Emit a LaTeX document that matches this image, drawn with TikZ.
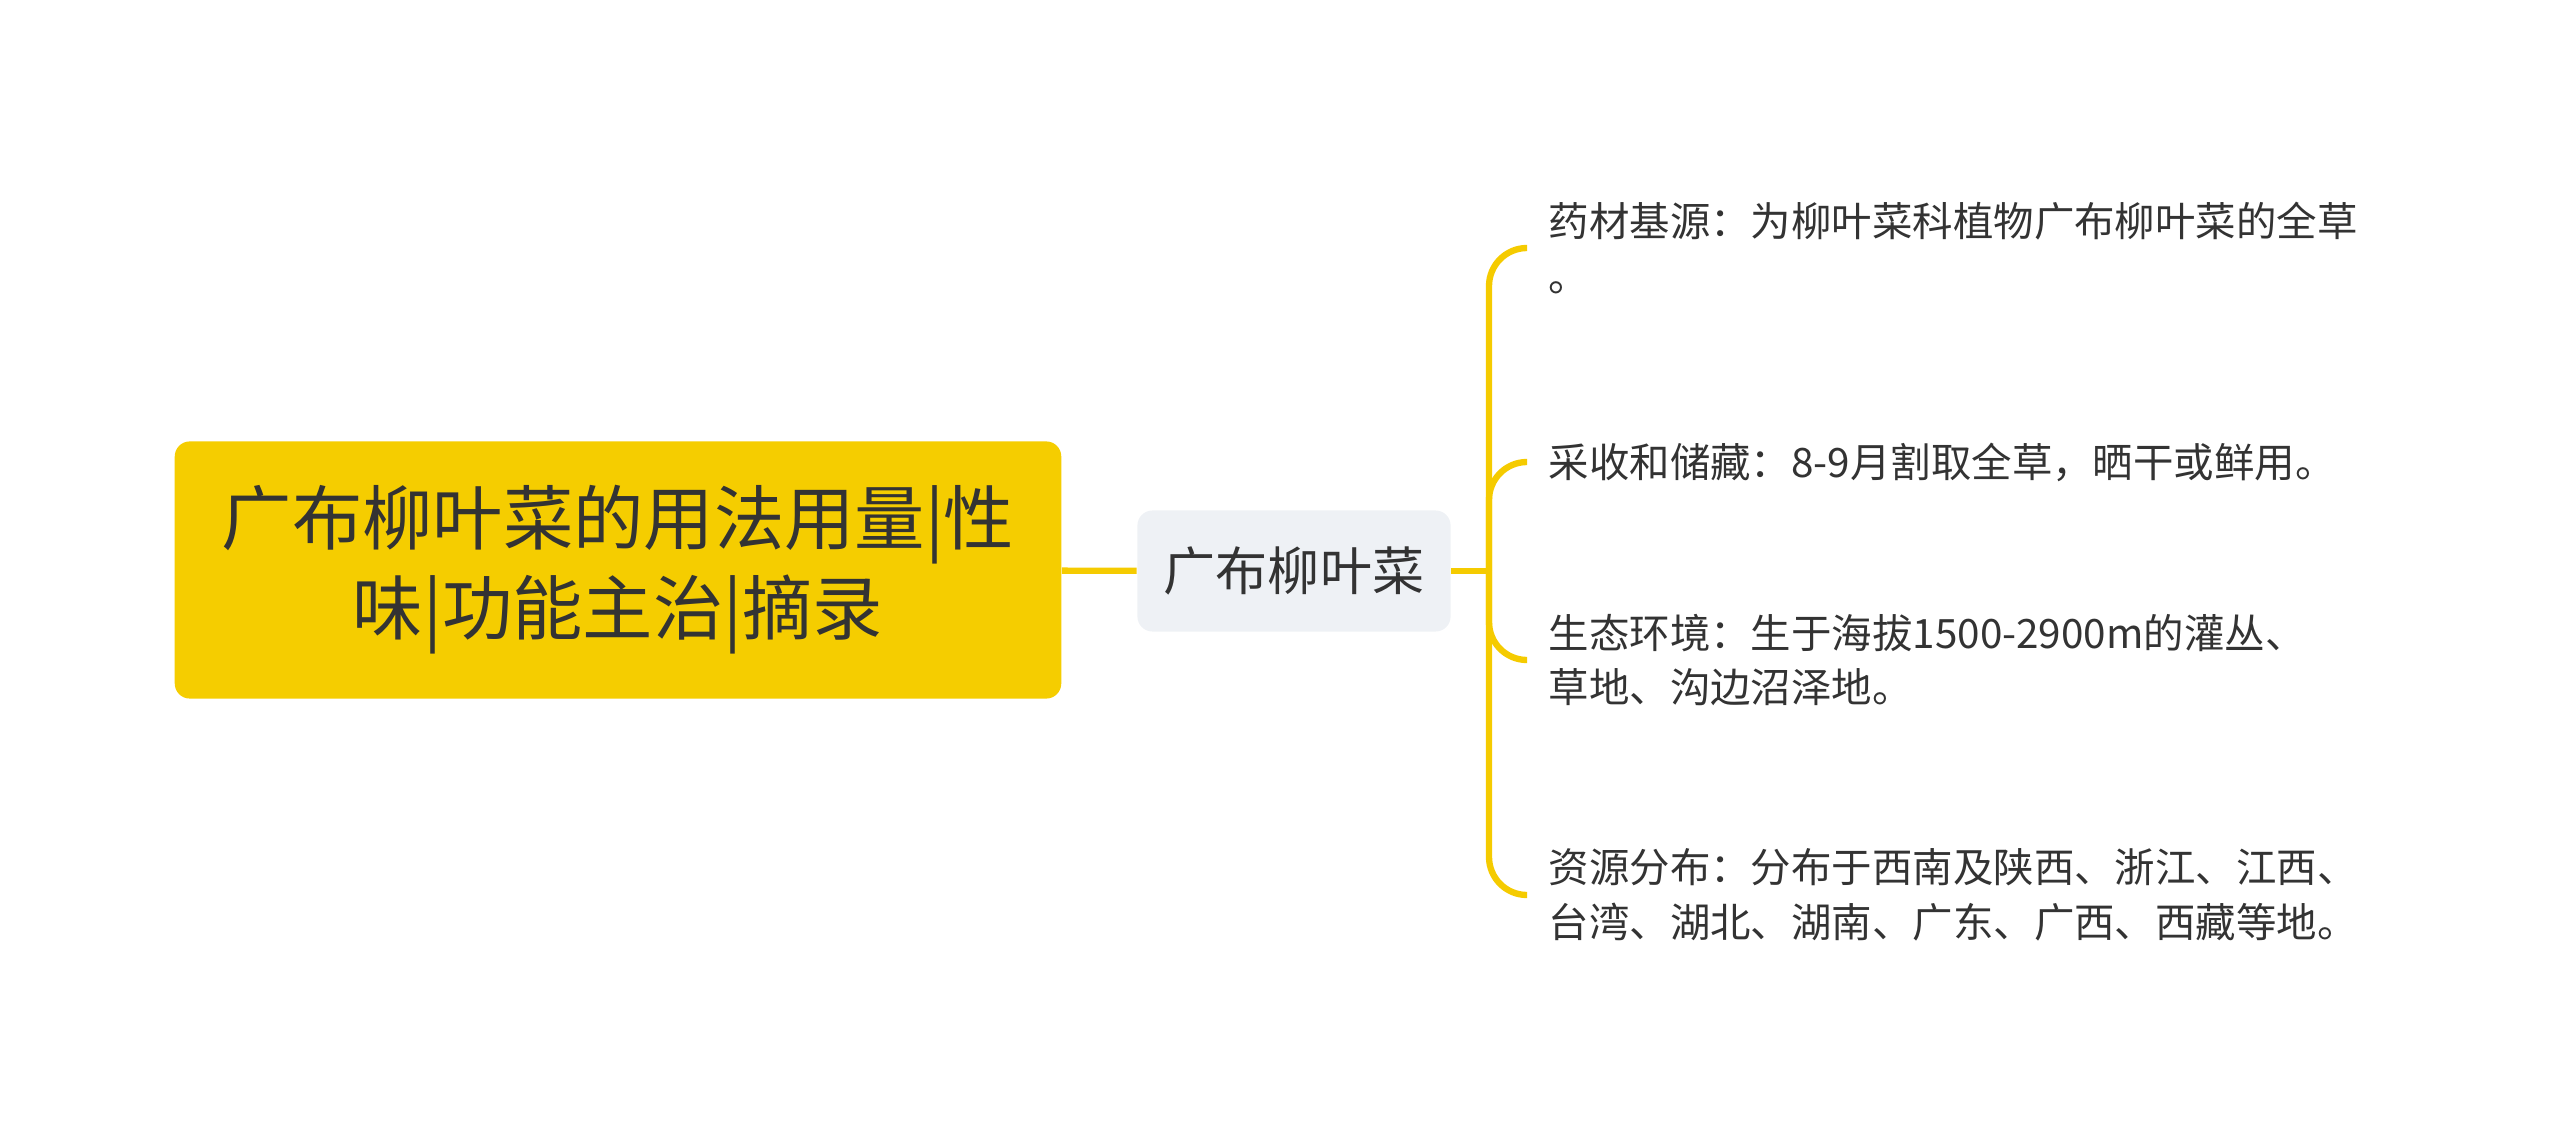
\documentclass[tikz,border=0pt]{standalone}
\usepackage{fontspec}
\setmainfont{Noto Sans CJK SC}
\definecolor{branch}{HTML}{F5CB00}
\definecolor{rootfill}{HTML}{F5CD00}
\definecolor{midfill}{HTML}{EEF1F5}
\definecolor{ink}{HTML}{333333}
\tikzset{
  rootbox/.style={fill=rootfill, rounded corners=0.15cm, minimum width=8.86cm,
    minimum height=2.57cm, align=center, text=ink, font=\fontsize{20}{25.6}\selectfont},
  midbox/.style={fill=midfill, rounded corners=0.15cm, minimum width=3.13cm,
    minimum height=1.21cm, text=ink, font=\fontsize{14.8}{18}\selectfont},
  leaftext/.style={anchor=west, align=left, inner xsep=0.21cm, text=ink,
    font=\fontsize{11.5}{15.6}\selectfont},
  link/.style={draw=branch, line width=1.8pt}
}
\begin{document}
\begin{tikzpicture}[x=0.01cm,y=-0.01cm]
  \useasboundingbox (0,0) rectangle (2560,1143);
  \node[rootbox] (root) at (618,570) {广布柳叶菜的用法用量|性\\味|功能主治|摘录};
  \node[midbox] (mid) at (1294,571) {广布柳叶菜};
  \coordinate (hub) at (1489,571);
  \node[leaftext] (yc) at (1527,248) {药材基源：为柳叶菜科植物广布柳叶菜的全草\\。};
  \node[leaftext] (cs) at (1527,462) {采收和储藏：8-9月割取全草，晒干或鲜用。};
  \node[leaftext] (st) at (1527,660) {生态环境：生于海拔1500-2900m的灌丛、\\草地、沟边沼泽地。};
  \node[leaftext] (zy) at (1527,895) {资源分布：分布于西南及陕西、浙江、江西、\\台湾、湖北、湖南、广东、广西、西藏等地。};
  \begin{scope}[link]
    \draw (root) -- (mid);
    \draw (mid) -- (hub);
    \draw[rounded corners=0.38cm] (hub) |- (yc.west);
    \draw[rounded corners=0.38cm] (hub) |- (cs.west);
    \draw[rounded corners=0.38cm] (hub) |- (st.west);
    \draw[rounded corners=0.38cm] (hub) |- (zy.west);
  \end{scope}
\end{tikzpicture}
\end{document}
